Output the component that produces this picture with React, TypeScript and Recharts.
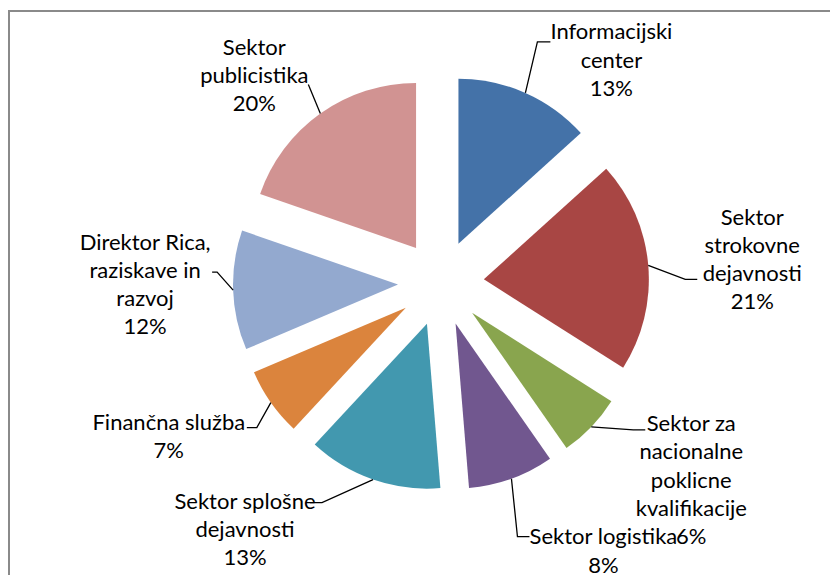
import { PieChart, Pie, Cell } from 'recharts';

// units of the organisation and their share of the total
const categories = [
  'Informacijski center',
  'Sektor strokovne dejavnosti',
  'Sektor za nacionalne poklicne kvalifikacije',
  'Sektor logistika',
  'Sektor splošne dejavnosti',
  'Finančna služba',
  'Direktor Rica, raziskave in razvoj',
  'Sektor publicistika',
];
const shares = [13.3, 20.7, 6.3, 8.4, 13.2, 6.7, 11.7, 19.7];

// how Excel wrapped each label
const labelRows = [
  ['Informacijski', 'center'],
  ['Sektor', 'strokovne', 'dejavnosti'],
  ['Sektor za', 'nacionalne', 'poklicne', 'kvalifikacije'],
  ['Sektor logistika'],
  ['Sektor splošne', 'dejavnosti'],
  ['Finančna služba'],
  ['Direktor Rica,', 'raziskave in', 'razvoj'],
  ['Sektor', 'publicistika'],
];

const colors = ['#4472A8', '#A84644', '#89A54E', '#71578F', '#4298AF', '#DB843D', '#93A9CF', '#D19392'];

// label placement relative to the arc midpoint of each (exploded) slice
const labelShift = [
  [86, -33], [104, -6], [100, 53], [92, 72], [-128, 50], [-102, 34], [-88, -6], [-66, -38],
];
// leader end relative to arc midpoint, plus length of the short horizontal piece
const leaderEnd = [
  [25, -51, -13], [49, 14, -12], [54, 3, -12], [18, 58, -12], [-63, 23, 12], [-24, 25, 10], [-21, -18, 5], [-12, -29, 0],
];

const EXPLODE = 43;
const FONT = 22;
const LINE_H = 28.2;

const data = categories.map((name, i) => ({ name, value: shares[i] }));

const total = shares.reduce((a, b) => a + b, 0);
const offsets = shares.map((v, i) => {
  const before = shares.slice(0, i).reduce((a, b) => a + b, 0);
  const theta = ((before + v / 2) / total) * 2 * Math.PI;
  return { dx: EXPLODE * Math.sin(theta), dy: -EXPLODE * Math.cos(theta) };
});

const renderLabel = (props: any) => {
  const { cx, cy, midAngle, outerRadius, index, percent } = props;
  const rad = (midAngle * Math.PI) / 180;
  const ux = Math.cos(rad);
  const uy = -Math.sin(rad);
  const sx = cx + ux * (EXPLODE + outerRadius);
  const sy = cy + uy * (EXPLODE + outerRadius);
  const [tx, ty] = labelShift[index];
  const [ex, ey, bx] = leaderEnd[index];
  const rows = [...labelRows[index], `${Math.round(percent * 100)}%`];
  const centerX = sx + tx;
  const centerY = sy + ty;
  const firstY = centerY - ((rows.length - 1) / 2) * LINE_H + FONT * 0.35;
  const endX = sx + ex;
  const endY = sy + ey;
  return (
    <g>
      <polyline
        points={`${sx},${sy} ${endX + bx},${endY} ${endX},${endY}`}
        fill="none"
        stroke="#000"
        strokeWidth={1.3}
      />
      <text
        x={centerX}
        y={firstY}
        textAnchor="middle"
        fill="#000"
        fontSize={FONT}
        fontFamily="Lato, 'Noto Sans', sans-serif"
      >
        {rows.map((r, k) => (
          <tspan key={k} x={centerX} dy={k === 0 ? 0 : LINE_H}>
            {r}
          </tspan>
        ))}
      </text>
    </g>
  );
};

export default function App() {
  return (
    <div style={{ position: 'absolute', left: 0, top: 0, width: 830, height: 575, overflow: 'hidden', background: '#fff' }}>
      <div
        style={{
          position: 'absolute',
          left: 8,
          top: 10,
          width: 840,
          height: 600,
          borderLeft: '2px solid #8a8a8a',
          borderTop: '2px solid #8a8a8a',
        }}
      />
      <div style={{ position: 'absolute', left: 0, top: 0 }}>
        <PieChart width={830} height={575} margin={{ top: 0, right: 0, bottom: 0, left: 0 }}>
          <Pie
            data={data}
            dataKey="value"
            nameKey="name"
            cx={441}
            cy={283}
            outerRadius={165}
            startAngle={90}
            endAngle={-270}
            stroke="none"
            label={renderLabel}
            labelLine={false}
            isAnimationActive={false}
          >
            {data.map((d, i) => (
              <Cell
                key={d.name}
                fill={colors[i]}
                transform={`translate(${offsets[i].dx}, ${offsets[i].dy})`}
              />
            ))}
          </Pie>
        </PieChart>
      </div>
    </div>
  );
}
